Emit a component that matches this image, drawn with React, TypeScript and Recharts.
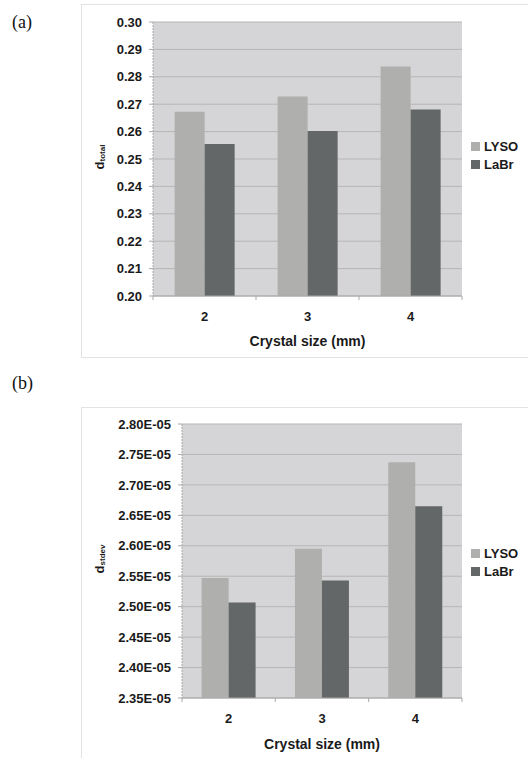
import { BarChart, Bar, XAxis, YAxis, CartesianGrid, Legend, Label } from 'recharts'

const CATEGORIES = ['2', '3', '4']
const LYSO_TOTAL = [0.2672, 0.2728, 0.2838]
const LABR_TOTAL = [0.2555, 0.2602, 0.2681]
const LYSO_STDEV = [2.547e-5, 2.595e-5, 2.737e-5]
const LABR_STDEV = [2.507e-5, 2.543e-5, 2.665e-5]
const TICKS_TOTAL = [0.2, 0.21, 0.22, 0.23, 0.24, 0.25, 0.26, 0.27, 0.28, 0.29, 0.3]
const TICKS_STDEV = [2.35e-5, 2.4e-5, 2.45e-5, 2.5e-5, 2.55e-5, 2.6e-5, 2.65e-5, 2.7e-5, 2.75e-5, 2.8e-5]

const LYSO_COLOR = '#afafad'
const LABR_COLOR = '#636767'
const PLOT_BG = '#d5d5d7'
const GRID = '#b6b6b6'
const AXIS_LINE = '#a9a9a9'
const FONT = '"Liberation Sans", Arial, sans-serif'
const TICK = { fill: '#1a1a1a', fontSize: 13, fontWeight: 700, fontFamily: FONT }

const totalData = CATEGORIES.map((c, i) => ({ size: c, LYSO: LYSO_TOTAL[i], LaBr: LABR_TOTAL[i] }))
const stdevData = CATEGORIES.map((c, i) => ({ size: c, LYSO: LYSO_STDEV[i], LaBr: LABR_STDEV[i] }))

// category label plus small tick marks at the band edges (Excel style)
function CatTick(props: any) {
  const { x, y, payload, index, visibleTicksCount } = props
  const half = payload?.offset || 0
  const last = index === visibleTicksCount - 1
  return (
    <g>
      {half > 0 && <line x1={x - half} x2={x - half} y1={y} y2={y + 4} stroke={AXIS_LINE} />}
      {half > 0 && last && <line x1={x + half} x2={x + half} y1={y} y2={y + 4} stroke={AXIS_LINE} />}
      <text x={x} y={y + 20} dy="0.35em" textAnchor="middle" {...TICK}>{payload.value}</text>
    </g>
  )
}

function yTitle(sub: string) {
  return (props: any) => {
    const vb = props.viewBox || { x: 0, y: 0, width: 0, height: 0 }
    const cx = vb.x + 18
    const cy = vb.y + vb.height / 2 - 2
    return (
      <text x={cx} y={cy} transform={`rotate(-90 ${cx} ${cy})`} textAnchor="middle"
            dominantBaseline="central" fill="#1a1a1a" fontFamily={FONT} fontWeight={700} fontSize={13}>
        d<tspan fontSize={8} dy={3}>{sub}</tspan>
      </text>
    )
  }
}

function LegendBox({ payload }: any) {
  return (
    <div style={{ fontFamily: FONT, fontSize: 13, fontWeight: 700, color: '#1a1a1a' }}>
      {(payload || []).map((p: any) => (
        <div key={p.value} style={{ display: 'flex', alignItems: 'center', height: 18 }}>
          <span style={{ display: 'inline-block', width: 9, height: 9, background: p.color, marginRight: 4 }} />
          <span>{p.value}</span>
        </div>
      ))}
    </div>
  )
}

function Panel({
  data, ticks, domain, fmt, sub, axisWidth, top, legendTop,
}: {
  data: any[]
  ticks: number[]
  domain: [number, number]
  fmt: (v: number) => string
  sub: string
  axisWidth: number
  top: number
  legendTop: number
}) {
  return (
    <div style={{ position: 'absolute', left: 81, top }}>
      <BarChart width={447} height={352} data={data} barCategoryGap="21%" barGap={0}
                margin={{ top: top === 5 ? 17 : 16, right: 66, bottom: 0, left: 0 }}>
        <CartesianGrid fill={PLOT_BG} stroke={GRID} vertical={false} />
        <XAxis dataKey="size" height={axisWidth > 80 ? 62 : 61} tick={<CatTick />} tickLine={false}
               tickSize={0} tickMargin={0} axisLine={{ stroke: AXIS_LINE }}>
          <Label value="Crystal size (mm)" position="insideBottom" offset={11}
                 style={{ fontFamily: FONT, fontSize: 14, fontWeight: 700, fill: '#1a1a1a' }} />
        </XAxis>
        <YAxis width={axisWidth} domain={domain} ticks={ticks} interval={0} allowDataOverflow
               tick={TICK} tickFormatter={fmt} tickSize={4} tickMargin={7}
               tickLine={{ stroke: AXIS_LINE }} axisLine={{ stroke: AXIS_LINE, strokeDasharray: '2 1' }}>
          <Label content={yTitle(sub)} />
        </YAxis>
        <YAxis yAxisId="edge" orientation="right" width={0} domain={domain} tick={false}
               axisLine={{ stroke: AXIS_LINE, strokeDasharray: '2 1' }} />
        <Legend layout="vertical" align="center" verticalAlign="middle" content={<LegendBox />}
                wrapperStyle={{ left: 390, top: legendTop, width: 60 }} />
        <Bar dataKey="LYSO" fill={LYSO_COLOR} isAnimationActive={false} />
        <Bar dataKey="LaBr" fill={LABR_COLOR} isAnimationActive={false} />
      </BarChart>
    </div>
  )
}

export default function App() {
  const frame = { position: 'absolute' as const, left: 81, width: 470, height: 352, border: '1px solid #e3e3e3' }
  const tag = { position: 'absolute' as const, left: 12, fontFamily: '"Liberation Serif", "Times New Roman", serif', fontSize: 18, color: '#111' }
  return (
    <div style={{ position: 'absolute', left: 0, top: 0, width: 528, height: 758, overflow: 'hidden', background: '#fff' }}>
      <div style={{ ...tag, top: 12 }}>(a)</div>
      <div style={{ ...tag, top: 373 }}>(b)</div>
      <div style={{ ...frame, top: 4 }} />
      <div style={{ ...frame, top: 407, height: 400 }} />
      <Panel data={totalData} ticks={TICKS_TOTAL} domain={[0.2, 0.3]} fmt={(v) => v.toFixed(2)}
             sub="total" axisWidth={72} top={5} legendTop={132} />
      <Panel data={stdevData} ticks={TICKS_STDEV} domain={[2.35e-5, 2.8e-5]}
             fmt={(v) => (v * 1e5).toFixed(2) + 'E-05'} sub="stdev" axisWidth={101} top={408} legendTop={136} />
    </div>
  )
}
